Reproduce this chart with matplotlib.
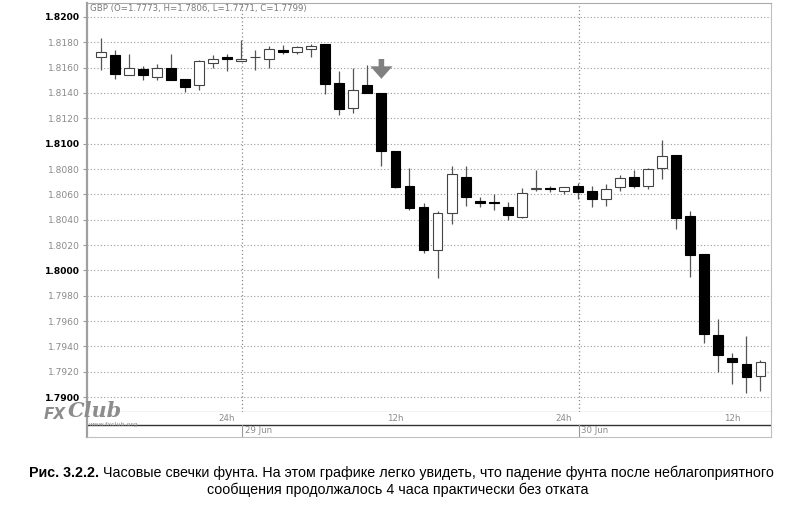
import numpy as np
import matplotlib.pyplot as plt

# hourly candles, hour 0 = 29 Jun 00:00
hours = list(range(-10, 38))
opens = [1.8168, 1.8170, 1.8154, 1.8159, 1.8153, 1.8160, 1.8151, 1.8146, 1.8164, 1.8168,
         1.8165, 1.8168, 1.8167, 1.8174, 1.8172, 1.8175, 1.8179, 1.8148, 1.8128, 1.8146,
         1.8140, 1.8094, 1.8067, 1.8050, 1.8016, 1.8045, 1.8074, 1.8055, 1.8054, 1.8050,
         1.8042, 1.8064, 1.8065, 1.8063, 1.8067, 1.8063, 1.8056, 1.8066, 1.8074, 1.8067,
         1.8081, 1.8091, 1.8043, 1.8013, 1.7949, 1.7931, 1.7926, 1.7917]
highs = [1.8183, 1.8174, 1.8171, 1.8161, 1.8163, 1.8171, 1.8151, 1.8166, 1.8170, 1.8171,
         1.8182, 1.8174, 1.8177, 1.8178, 1.8177, 1.8179, 1.8179, 1.8157, 1.8160, 1.8162,
         1.8140, 1.8094, 1.8081, 1.8053, 1.8047, 1.8082, 1.8082, 1.8058, 1.8060, 1.8054,
         1.8065, 1.8079, 1.8067, 1.8066, 1.8069, 1.8067, 1.8068, 1.8075, 1.8079, 1.8081,
         1.8103, 1.8091, 1.8047, 1.8013, 1.7962, 1.7935, 1.7948, 1.7929]
lows = [1.8158, 1.8151, 1.8154, 1.8150, 1.8150, 1.8150, 1.8141, 1.8142, 1.8160, 1.8157,
        1.8165, 1.8158, 1.8160, 1.8171, 1.8171, 1.8168, 1.8139, 1.8123, 1.8124, 1.8140,
        1.8082, 1.8065, 1.8048, 1.8014, 1.7994, 1.8037, 1.8051, 1.8050, 1.8048, 1.8040,
        1.8041, 1.8063, 1.8062, 1.8060, 1.8056, 1.8050, 1.8051, 1.8063, 1.8065, 1.8064,
        1.8072, 1.8033, 1.7995, 1.7943, 1.7920, 1.7910, 1.7903, 1.7905]
closes = [1.8172, 1.8155, 1.8160, 1.8154, 1.8160, 1.8150, 1.8145, 1.8165, 1.8167, 1.8167,
          1.8167, 1.8168, 1.8175, 1.8172, 1.8176, 1.8177, 1.8147, 1.8127, 1.8142, 1.8140,
          1.8094, 1.8066, 1.8049, 1.8016, 1.8045, 1.8076, 1.8058, 1.8053, 1.8053, 1.8044,
          1.8061, 1.8065, 1.8064, 1.8066, 1.8062, 1.8056, 1.8064, 1.8073, 1.8067, 1.8080,
          1.8090, 1.8041, 1.8012, 1.7950, 1.7933, 1.7928, 1.7916, 1.7928]

price_ticks = [1.7900, 1.7920, 1.7940, 1.7960, 1.7980, 1.8000, 1.8020, 1.8040,
               1.8060, 1.8080, 1.8100, 1.8120, 1.8140, 1.8160, 1.8180, 1.8200]
bold_ticks = [1.7900, 1.8000, 1.8100, 1.8200]
day_hours = [0, 24]
day_labels = ['29 Jun', '30 Jun']
hour_label_pos = [-1, 11, 23, 35]
hour_labels = ['24h', '12h', '24h', '12h']
arrow_hour = 10
header = 'GBP (O=1.7773, H=1.7806, L=1.7771, C=1.7799)'
caption_bold = 'Рис. 3.2.2.'
caption_1 = ' Часовые свечки фунта. На этом графике легко увидеть, что падение фунта после неблагоприятного'
caption_2 = 'сообщения продолжалось 4 часа практически без отката'

W, H = 794, 517
fig = plt.figure(figsize=(W / 100, H / 100), dpi=100)


def fx(px):
    return px / W


def fy(py):
    return 1 - py / H


x0, x1 = 87, 771
ax = fig.add_axes([fx(x0), fy(412), fx(x1) - fx(x0), fy(3) - fy(412)])
ax.set_xlim(-10.97, 37.75)
ax.set_ylim(1.78883, 1.82110)

o = np.array(opens); c = np.array(closes)
up = c >= o
ax.vlines(hours, lows, highs, color='#555555', lw=0.9, zorder=2)
ax.bar(hours, np.abs(c - o), bottom=np.minimum(o, c), width=0.7,
       color=np.where(up, 'white', 'black'), edgecolor=np.where(up, '#444444', 'black'),
       lw=0.8, zorder=3)

ax.set_yticks(price_ticks)
ax.set_yticklabels([f'{t:.4f}' for t in price_ticks])
for lab, t in zip(ax.get_yticklabels(), price_ticks):
    if t in bold_ticks:
        lab.set_color('black'); lab.set_fontweight('bold')
    else:
        lab.set_color('#8a8a8a')
ax.tick_params(axis='y', labelsize=6.6, length=3, color='#999999', pad=2)
ax.set_xticks([])
ax.grid(axis='y', color='#9a9a9a', linestyle=(0, (1, 2)), lw=0.8)
for d in day_hours:
    ax.axvline(d + 0.1, color='#8a8a8a', linestyle=(0, (1, 2)), lw=0.9)
ax.spines['left'].set_color('#a0a0a0'); ax.spines['left'].set_linewidth(1.6)
ax.spines['top'].set_color('#aaaaaa')
ax.spines['right'].set_color('#c0c0c0')
ax.spines['bottom'].set_color('#333333')

ax.text(0.004, 0.997, header, transform=ax.transAxes, va='top', ha='left',
        fontsize=6.2, color='#7a7a7a')

# arrow above the news candle
ax.annotate('', xy=(arrow_hour, highs[arrow_hour + 10] + 0.0009),
            xytext=(arrow_hour, highs[arrow_hour + 10] + 0.0029),
            arrowprops=dict(arrowstyle='simple,head_length=0.9,head_width=1.6,tail_width=0.4',
                            mutation_scale=10, color='#808080', lw=0))

# time strip under the chart
axt = fig.add_axes([fx(x0), fy(437), fx(x1) - fx(x0), fy(412) - fy(437)])
axt.set_xlim(ax.get_xlim()); axt.set_ylim(0, 1)
axt.set_xticks([]); axt.set_yticks([])
axt.axhline(0.5, color='#333333', lw=1)
for s in ['right', 'bottom']:
    axt.spines[s].set_color('#c0c0c0')
axt.spines['left'].set_color('#a0a0a0'); axt.spines['left'].set_linewidth(1.6)
axt.spines['top'].set_visible(False)
for p, lab in zip(hour_label_pos, hour_labels):
    axt.text(p, 0.73, lab, ha='center', va='center', fontsize=6.2, color='#8a8a8a')
for d, lab in zip(day_hours, day_labels):
    axt.plot([d + 0.1, d + 0.1], [0, 0.5], color='#999999', lw=0.8)
    axt.text(d + 0.25, 0.25, lab, ha='left', va='center', fontsize=6.2, color='#8a8a8a')

# logo
fig.text(fx(44), fy(419), 'FX', fontsize=11, style='italic', weight='bold', color='#8c8c8c')
fig.text(fx(68), fy(417), 'Club', fontsize=15, style='italic', weight='bold', color='#8c8c8c',
         family='DejaVu Serif')
fig.text(fx(89), fy(426), 'www.fxclub.org', fontsize=4.6, color='#8a8a8a')

# caption, sized to the width of the reference line
fam = ['Liberation Sans Narrow', 'Liberation Sans', 'DejaVu Sans']
r = fig.canvas.get_renderer()
fs = 11
tb = fig.text(0, fy(477), caption_bold, fontsize=fs, weight='bold', family=fam)
tn = fig.text(0, fy(477), caption_1, fontsize=fs, family=fam)
total = tb.get_window_extent(r).width + tn.get_window_extent(r).width
fs = fs * 736 / total
tb.set_fontsize(fs); tn.set_fontsize(fs)
wb = tb.get_window_extent(r).width
wn = tn.get_window_extent(r).width
start = 401 - (wb + wn) / 2
tb.set_x(fx(start)); tn.set_x(fx(start + wb))
fig.text(fx(398), fy(494), caption_2, fontsize=fs, family=fam, ha='center')

fig.savefig('out.png', dpi=100)
